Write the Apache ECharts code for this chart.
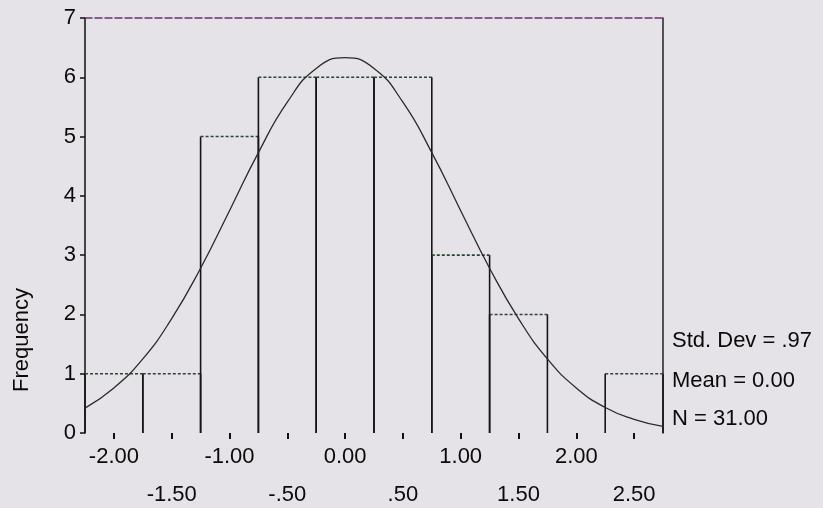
<!DOCTYPE html>
<html>
<head>
<meta charset="utf-8">
<script src="https://cdn.jsdelivr.net/npm/echarts@6/dist/echarts.min.js"></script>
<style>
  html, body { margin: 0; padding: 0; background: #e5e3e7; }
  #main { width: 823px; height: 508px; }
</style>
</head>
<body>
<div id="main"></div>
<script>
// histogram bins (width .50)
var binCenters = [-2.0, -1.5, -1.0, -0.5, 0.0, 0.5, 1.0, 1.5, 2.0, 2.5];
var binLabels = ['-2.00', '-1.50', '-1.00', '-.50', '0.00', '.50', '1.00', '1.50', '2.00', '2.50'];
var binCounts = [1, 1, 5, 6, 6, 6, 3, 2, 0, 1];

// normal curve
var curveX = [-2.25, -2.0, -1.75, -1.5, -1.25, -1.0, -0.75, -0.5, -0.25, 0.0,
              0.25, 0.5, 0.75, 1.0, 1.25, 1.5, 1.75, 2.0, 2.25, 2.5, 2.75];
var curveY = [0.42, 0.76, 1.25, 1.93, 2.78, 3.75, 4.73, 5.58, 6.15, 6.33,
              6.15, 5.58, 4.73, 3.75, 2.78, 1.93, 1.25, 0.76, 0.43, 0.23, 0.11];

var statLines = ['Std. Dev = .97', 'Mean = 0.00', 'N = 31.00'];

var FONT = '"Liberation Sans", Arial, sans-serif';
var myChart = echarts.init(document.getElementById('main'));

var option = {
    backgroundColor: '#e5e3e7',
    animation: false,
    grid: { left: 85, right: 160, top: 18, bottom: 75, outerBoundsMode: 'none', containLabel: false },
    xAxis: [
        {
            // tick/label axis
            type: 'category',
            data: binLabels,
            boundaryGap: true,
            axisLine: { show: false, onZero: false },
            axisTick: {
                show: true, alignWithLabel: true, length: 6,
                lineStyle: { color: '#111', width: 2 }
            },
            axisLabel: {
                fontFamily: FONT, fontSize: 22, color: '#0a0a0a',
                margin: 5, lineHeight: 38, interval: 0,
                formatter: function (v, i) {
                    return i % 2 === 0 ? v : '\n' + v;
                }
            },
            splitLine: { show: false }
        },
        {
            // value axis used for bars + curve, drawn as the top frame line
            type: 'value',
            position: 'top',
            min: -2.25,
            max: 2.75,
            axisLine: { show: true, onZero: false, lineStyle: { color: '#6a3370', width: 1.5, type: [7, 3] } },
            axisTick: { show: false },
            axisLabel: { show: false },
            splitLine: { show: false }
        }
    ],
    yAxis: [
        {
            type: 'value',
            min: 0,
            max: 7,
            interval: 1,
            axisLine: { show: true, onZero: false, lineStyle: { color: '#111', width: 1.5 } },
            axisTick: { show: true, length: 5, lineStyle: { color: '#111', width: 1.5 } },
            axisLabel: { fontFamily: FONT, fontSize: 22, color: '#0a0a0a', margin: 9 },
            splitLine: { show: false }
        },
        {
            type: 'value',
            position: 'right',
            min: 0,
            max: 7,
            axisLine: { show: true, onZero: false, lineStyle: { color: '#222', width: 1.5 } },
            axisTick: { show: false },
            axisLabel: { show: false },
            splitLine: { show: false }
        }
    ],
    series: [
        {
            name: 'bins',
            type: 'custom',
            xAxisIndex: 1,
            yAxisIndex: 0,
            data: binCenters.map(function (c, i) { return [c, binCounts[i]]; }),
            renderItem: function (params, api) {
                var c = api.value(0), n = api.value(1);
                if (n <= 0) return null;
                var bl = api.coord([c - 0.25, 0]);
                var tl = api.coord([c - 0.25, n]);
                var tr = api.coord([c + 0.25, n]);
                var br = api.coord([c + 0.25, 0]);
                return {
                    type: 'group',
                    children: [
                        { type: 'line', shape: { x1: bl[0], y1: bl[1], x2: tl[0], y2: tl[1] },
                          style: { stroke: '#151515', lineWidth: 1.6 } },
                        { type: 'line', shape: { x1: br[0], y1: br[1], x2: tr[0], y2: tr[1] },
                          style: { stroke: '#151515', lineWidth: 1.6 } },
                        { type: 'line', shape: { x1: tl[0], y1: tl[1], x2: tr[0], y2: tr[1] },
                          style: { stroke: '#2e4434', lineWidth: 1.6, lineDash: [3, 2] } }
                    ]
                };
            },
            z: 3
        },
        {
            name: 'normal',
            type: 'line',
            xAxisIndex: 1,
            yAxisIndex: 0,
            data: curveX.map(function (x, i) { return [x, curveY[i]]; }),
            smooth: true,
            showSymbol: false,
            lineStyle: { color: '#2a2a2a', width: 1.3 },
            z: 4
        }
    ],
    graphic: [
        {
            type: 'text',
            x: 22, y: 340,
            rotation: Math.PI / 2,
            style: {
                text: 'Frequency', fontFamily: FONT, fontSize: 22, fill: '#0a0a0a',
                align: 'center', verticalAlign: 'middle'
            }
        },
        {
            type: 'text', left: 672, top: 330,
            style: { text: statLines[0], fontFamily: FONT, fontSize: 22, fill: '#0a0a0a' }
        },
        {
            type: 'text', left: 672, top: 370,
            style: { text: statLines[1], fontFamily: FONT, fontSize: 22, fill: '#0a0a0a' }
        },
        {
            type: 'text', left: 672, top: 408,
            style: { text: statLines[2], fontFamily: FONT, fontSize: 22, fill: '#0a0a0a' }
        }
    ]
};

myChart.setOption(option);
window.onresize = () => {
    myChart.resize();
};
</script>
</body>
</html>
